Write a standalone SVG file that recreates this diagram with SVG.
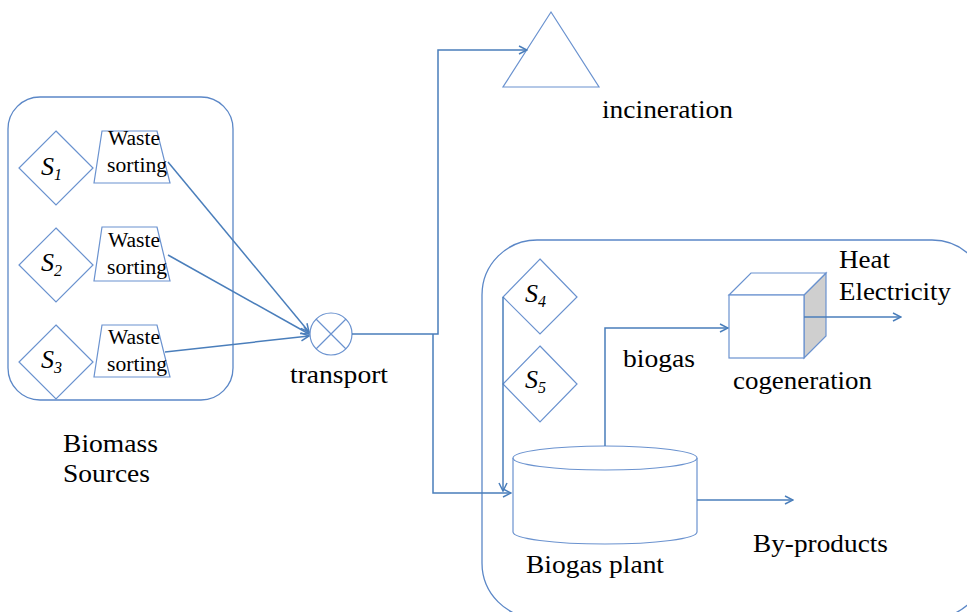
<svg xmlns="http://www.w3.org/2000/svg" width="967" height="612" viewBox="0 0 967 612">
<style>
.box{fill:none;stroke:#5b87c7;stroke-width:1.3}
.shp{fill:#fff;stroke:#6a92cf;stroke-width:1.2}
.con{fill:none;stroke:#4a7ebb;stroke-width:1.5}
text{font-family:'Liberation Serif','Times New Roman',Times,'DejaVu Serif',serif;fill:#000}
.lbl{font-size:26px}
.ws{font-size:20px}
.s{font-size:26px;font-style:italic}
.sub{font-size:16px}
</style>
<defs>
<marker id="arr" viewBox="0 0 10 10" refX="9" refY="5" markerWidth="10" markerHeight="10" markerUnits="userSpaceOnUse" orient="auto">
<path d="M1,1 L9,5 L1,9" fill="none" stroke="#4a7ebb" stroke-width="1.5"/>
</marker>
</defs>
<rect width="967" height="612" fill="#fff"/>
<g id="biomass-sources">
<rect class="box" x="8" y="97" width="225" height="303" rx="32"/>
<text class="lbl" x="63" y="452" textLength="95" lengthAdjust="spacingAndGlyphs">Biomass</text>
<text class="lbl" x="63" y="482" textLength="87" lengthAdjust="spacingAndGlyphs">Sources</text>
</g>
<g id="s1"><polygon class="shp" points="56,131 93,168 56,205 19,168"/><text class="s" x="41" y="175">S<tspan class="sub" dy="5">1</tspan></text></g>
<g id="s2"><polygon class="shp" points="56,228 93,265 56,302 19,265"/><text class="s" x="41" y="271">S<tspan class="sub" dy="5">2</tspan></text></g>
<g id="s3"><polygon class="shp" points="56,325 93,362 56,399 19,362"/><text class="s" x="41" y="368">S<tspan class="sub" dy="5">3</tspan></text></g>
<g id="ws1"><polygon class="shp" points="102,131 157,131 170,183 94,183"/><text class="ws" x="108" y="145" textLength="52" lengthAdjust="spacingAndGlyphs">Waste</text><text class="ws" x="107" y="172" textLength="60" lengthAdjust="spacingAndGlyphs">sorting</text></g>
<g id="ws2"><polygon class="shp" points="102,227 157,227 170,281 94,281"/><text class="ws" x="108" y="247" textLength="52" lengthAdjust="spacingAndGlyphs">Waste</text><text class="ws" x="107" y="274" textLength="60" lengthAdjust="spacingAndGlyphs">sorting</text></g>
<g id="ws3"><polygon class="shp" points="102,325 157,325 170,377 94,377"/><text class="ws" x="108" y="344" textLength="52" lengthAdjust="spacingAndGlyphs">Waste</text><text class="ws" x="107" y="371" textLength="60" lengthAdjust="spacingAndGlyphs">sorting</text></g>
<g id="transport">
<circle class="shp" cx="331" cy="334" r="21"/>
<path class="shp" d="M316,319 L346,349 M346,319 L316,349"/>
<text class="lbl" x="290" y="383" textLength="98" lengthAdjust="spacingAndGlyphs">transport</text>
</g>
<g id="incineration">
<polygon class="shp" points="551,12 599,87 503,87"/>
<text class="lbl" x="602" y="118" textLength="131" lengthAdjust="spacingAndGlyphs">incineration</text>
</g>
<g id="biogas-area">
<rect class="box" x="482" y="240" width="505" height="378" rx="55"/>
</g>
<g id="s4"><polygon class="shp" points="540,259 577,297 540,334 503,297"/><text class="s" x="525" y="302">S<tspan class="sub" dy="5">4</tspan></text></g>
<g id="s5"><polygon class="shp" points="540,346 577,384 540,422 503,384"/><text class="s" x="525" y="388">S<tspan class="sub" dy="5">5</tspan></text></g>
<g id="biogas-plant">
<path class="shp" d="M513,458 L513,532 A92,12 0 0 0 697,532 L697,458"/>
<ellipse class="shp" cx="605" cy="458" rx="92" ry="12"/>
<text class="lbl" x="526" y="573" textLength="138" lengthAdjust="spacingAndGlyphs">Biogas plant</text>
</g>
<g id="cogeneration">
<polygon points="804,295 826,273 826,336 804,358" fill="#cfcfcf" stroke="#6a92cf" stroke-width="1.2"/>
<polygon class="shp" points="729,295 751,273 826,273 804,295"/>
<rect class="shp" x="729" y="295" width="75" height="63"/>
<text class="lbl" x="733" y="389" textLength="139" lengthAdjust="spacingAndGlyphs">cogeneration</text>
</g>
<g id="outputs">
<text class="lbl" x="839" y="268" textLength="51" lengthAdjust="spacingAndGlyphs">Heat</text>
<text class="lbl" x="839" y="300" textLength="112" lengthAdjust="spacingAndGlyphs">Electricity</text>
<text class="lbl" x="753" y="552" textLength="135" lengthAdjust="spacingAndGlyphs">By-products</text>
<text class="lbl" x="623" y="367" textLength="72" lengthAdjust="spacingAndGlyphs">biogas</text>
</g>
<g id="connectors">
<path class="con" d="M168,162 L309,332" marker-end="url(#arr)"/>
<path class="con" d="M168,255 L309,334" marker-end="url(#arr)"/>
<path class="con" d="M165,352 L309,336" marker-end="url(#arr)"/>
<path class="con" d="M352,334 L438,334 L438,50 L527,50" marker-end="url(#arr)"/>
<path class="con" d="M433,334 L433,493 L511,493" marker-end="url(#arr)"/>
<path class="con" d="M503,297 L503,491" marker-end="url(#arr)"/>
<path class="con" d="M605,446 L605,328 L728,328" marker-end="url(#arr)"/>
<path class="con" d="M804,317 L901,317" marker-end="url(#arr)"/>
<path class="con" d="M697,500 L793,500" marker-end="url(#arr)"/>
</g>
</svg>
